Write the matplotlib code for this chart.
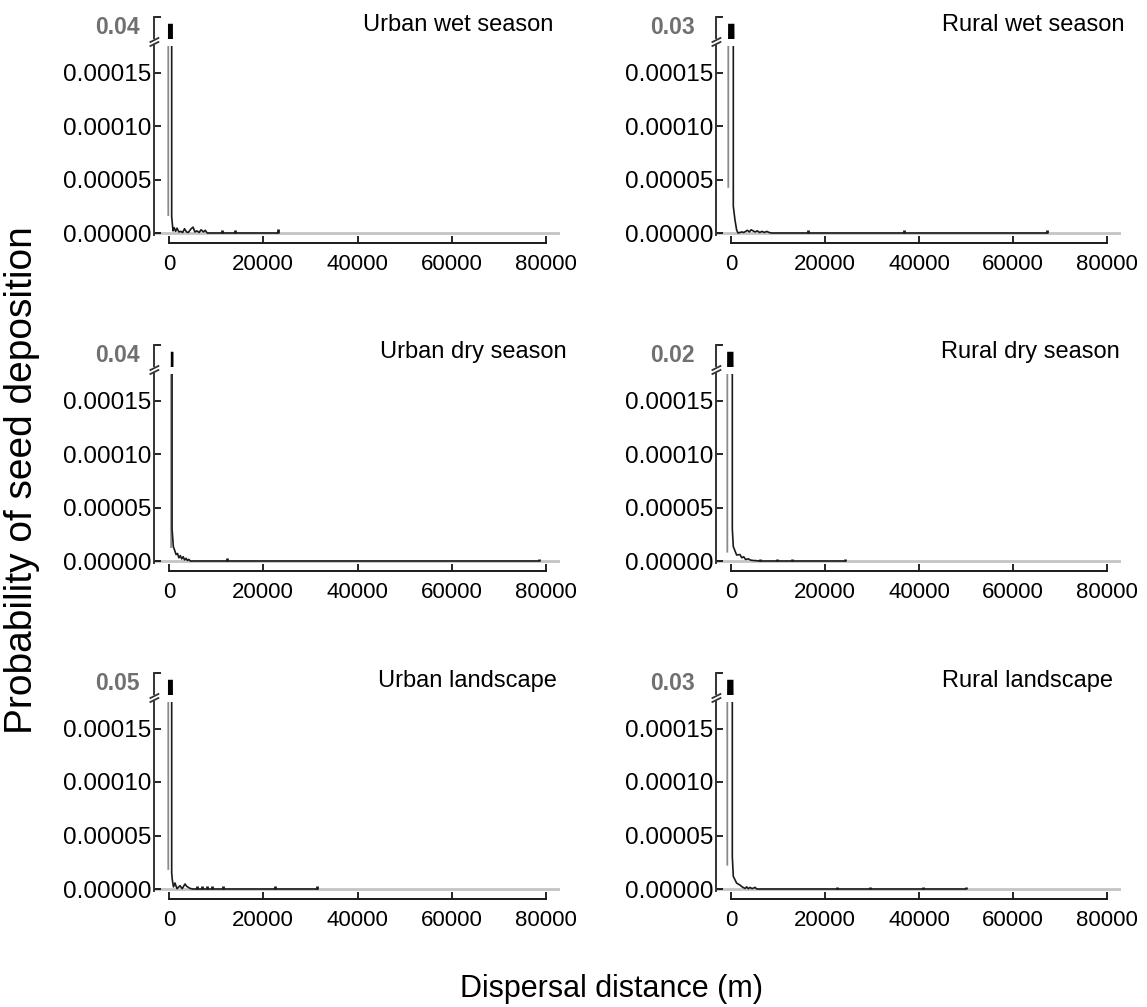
import matplotlib.pyplot as plt
from matplotlib.lines import Line2D

plt.rcParams['font.family'] = ['Liberation Sans', 'DejaVu Sans']

titles = ['Urban wet season', 'Rural wet season',
          'Urban dry season', 'Rural dry season',
          'Urban landscape', 'Rural landscape']
peak_labels = ['0.04', '0.03', '0.04', '0.02', '0.05', '0.03']
peaks = [0.04, 0.03, 0.04, 0.02, 0.05, 0.03]

# near-source part of each curve: distance (m), probability
uw_x = [-150, -100, 500, 570, 850, 1100, 1400, 1700, 2100, 2500, 2900, 3300,
        3700, 4100, 4600, 5100, 5500, 5900, 6400, 6800, 7300, 7700, 8100]
uw_y = [1.68e-5, 0.04, 0.04, 1.5e-5, 2.0e-6, 5.0e-6, 1.5e-6, 4.5e-6, 1.0e-6, 1.5e-6,
        0.5e-6, 4.0e-6, 1.0e-6, 0.5e-6, 3.5e-6, 5.5e-6, 1.0e-6, 2.0e-6, 0.5e-6,
        3.0e-6, 1.0e-6, 2.5e-6, 0.0]
rw_x = [-575, -500, 400, 490, 850, 1200, 1500, 2300, 2700, 3100, 3500, 3900,
        4300, 4700, 5100, 5600, 6100, 6600, 7100, 7600, 8100, 8600]
rw_y = [4.31e-5, 0.03, 0.03, 2.5e-5, 1.2e-5, 2.8e-6, 0.0, 1.0e-6, 0.5e-6, 1.5e-6,
        2.5e-6, 1.0e-6, 3.0e-6, 2.0e-6, 1.0e-6, 2.0e-6, 0.5e-6, 1.5e-6, 0.5e-6,
        1.5e-6, 0.5e-6, 0.0]
ud_x = [450, 500, 620, 650, 920, 1200, 1500, 1800, 2100, 2400, 2700, 3000,
        3300, 3600, 3900, 4200, 4500]
ud_y = [1.3e-5, 0.04, 0.04, 3.0e-5, 1.34e-5, 1.0e-5, 6.0e-6, 7.0e-6, 3.0e-6, 5.0e-6,
        2.0e-6, 4.0e-6, 1.0e-6, 2.5e-6, 0.5e-6, 1.5e-6, 0.0]
rd_x = [-780, -700, 200, 280, 490, 1200, 1900, 2300, 2700, 3100, 3700, 4200,
        4700, 5400, 6000]
rd_y = [8.7e-6, 0.02, 0.02, 3.0e-5, 1.34e-5, 5.6e-6, 6.0e-6, 3.0e-6, 4.0e-6, 1.5e-6,
        2.0e-6, 0.8e-6, 0.5e-6, 0.3e-6, 0.0]
ul_x = [-150, -100, 500, 570, 700, 950, 1270, 1700, 2330, 2800, 3400, 3750,
        4460, 5000]
ul_y = [1.87e-5, 0.05, 0.05, 1.5e-5, 8.7e-6, 2.0e-6, 5.6e-6, 0.3e-6, 3.1e-6, 0.3e-6,
        4.7e-6, 2.5e-6, 0.6e-6, 0.0]
rl_x = [-790, -700, 200, 280, 490, 1200, 1900, 2400, 3000, 3340, 3700, 4040,
        4500, 5100, 5500]
rl_y = [2.27e-5, 0.03, 0.03, 3.0e-5, 1.18e-5, 5.5e-6, 3.7e-6, 1.9e-6, 0.5e-6, 2.0e-6,
        0.3e-6, 1.5e-6, 0.3e-6, 1.5e-6, 0.0]

# isolated long-distance depositions
uw_tx = [11200, 14000, 23100]
uw_th = [3e-6, 3e-6, 4e-6]
rw_tx = [16400, 36800, 67200]
rw_th = [3e-6, 2.5e-6, 2.5e-6]
ud_tx = [12300, 78500]
ud_th = [3e-6, 2e-6]
rd_tx = [6200, 9700, 12900, 24300]
rd_th = [1.5e-6, 1.5e-6, 1.5e-6, 2e-6]
ul_tx = [5900, 6950, 8000, 9050, 11500, 22500, 31500]
ul_th = [2.5e-6, 2.5e-6, 2.5e-6, 2.5e-6, 2.5e-6, 3e-6, 3e-6]
rl_tx = [22600, 29600, 40800, 49900]
rl_th = [2e-6, 2e-6, 2e-6, 2e-6]

curves_x = [uw_x, rw_x, ud_x, rd_x, ul_x, rl_x]
curves_y = [uw_y, rw_y, ud_y, rd_y, ul_y, rl_y]
tails_x = [uw_tx, rw_tx, ud_tx, rd_tx, ul_tx, rl_tx]
tails_h = [uw_th, rw_th, ud_th, rd_th, ul_th, rl_th]
xticks = [0, 20000, 40000, 60000, 80000]
yticks = [0, 5e-5, 1e-4, 1.5e-4]

W, H = 1147, 1007
fig = plt.figure(figsize=(W / 100, H / 100), dpi=100)


def fx(px):
    return px / W


def fy(py):
    return 1 - py / H


col_zero = [169, 731]
col_80k = [546, 1107]
row_off = [0, 328, 656]
title_pos = [(553, 25), (1125, 25), (567, 352), (1120, 352), (557, 681), (1113, 681)]
label_right = [140, 695]
xmin, xmax = -3100, 83000
v = 5e-5 / 53.5  # probability per pixel in the lower part
line_c = '#1a1a1a'
spine_c = '#333333'

for i in range(6):
    r, c = divmod(i, 2)
    off = row_off[r]
    ppm = (col_80k[c] - col_zero[c]) / 80000
    left = col_zero[c] + xmin * ppm
    right = col_zero[c] + xmax * ppm
    p = peaks[i]

    # lower (0 - 0.000175) part
    top, bot = 46 + off, 235 + off
    ax = fig.add_axes([fx(left), fy(bot), fx(right - left), (bot - top) / H])
    ax.axhline(0, color='#c4c4c4', lw=2, zorder=1)
    xs = curves_x[i][1:] + [max(tails_x[i])]
    ys = curves_y[i][1:] + [0.0]
    ax.plot(curves_x[i][:2], curves_y[i][:2], color='#8a8a8a', lw=1.3, zorder=2)
    ax.plot(xs, ys, color=line_c, lw=1.2, zorder=3)
    ax.vlines(tails_x[i], 0, tails_h[i], color=line_c, lw=2, zorder=3)
    ax.set_xlim(xmin, xmax)
    ax.set_ylim(-2 * v, 187 * v)
    for s in ['top', 'right']:
        ax.spines[s].set_visible(False)
    ax.spines['left'].set_color(spine_c)
    ax.spines['left'].set_linewidth(1.4)
    ax.spines['bottom'].set_color(line_c)
    ax.spines['bottom'].set_linewidth(1.4)
    ax.spines['bottom'].set_position(('outward', 6))
    ax.spines['bottom'].set_bounds(0, 80000)
    ax.set_xticks(xticks)
    ax.set_xticklabels([str(t) for t in xticks])
    ax.set_yticks(yticks)
    ax.set_yticklabels(['%.5f' % t for t in yticks])
    ax.tick_params(axis='x', direction='in', length=5, width=1.2, pad=8, labelsize=16)
    ax.tick_params(axis='y', direction='in', length=5, width=1.2, pad=2, labelsize=17.5)

    # upper (peak) part
    utop, ubot = 17 + off, 38 + off
    axu = fig.add_axes([fx(left), fy(ubot), fx(right - left), (ubot - utop) / H])
    axu.fill_between(curves_x[i], curves_y[i], 0, color='black', lw=1.5,
                     edgecolor='black', joinstyle='miter')
    axu.set_xlim(xmin, xmax)
    axu.set_ylim(p * 0.85, p * 1.08)
    for s in ['top', 'right', 'bottom']:
        axu.spines[s].set_visible(False)
    axu.spines['left'].set_color(spine_c)
    axu.spines['left'].set_linewidth(1.4)
    axu.set_xticks([])
    axu.set_yticks([p * 1.08])
    axu.set_yticklabels([''])
    axu.tick_params(axis='y', direction='in', length=5, width=1.2)
    axu.patch.set_alpha(0)

    # axis break marks
    for yb in (40 + off, 44 + off):
        fig.add_artist(Line2D([fx(left - 4), fx(left + 4)], [fy(yb + 2), fy(yb - 2)],
                              color=spine_c, lw=1.3))

    fig.text(fx(label_right[c]), fy(27 + off), peak_labels[i], ha='right', va='center',
             fontsize=16.5, fontweight='bold', color='#707070')
    tx, ty = title_pos[i]
    fig.text(fx(tx), fy(ty), titles[i], ha='right', va='center', fontsize=17)

fig.text(fx(22), fy(480), 'Probability of seed deposition', rotation=90,
         ha='center', va='center', fontsize=28)
fig.text(fx(612), fy(989), 'Dispersal distance (m)', ha='center', va='center', fontsize=22)

fig.savefig('out.png', dpi=100)
